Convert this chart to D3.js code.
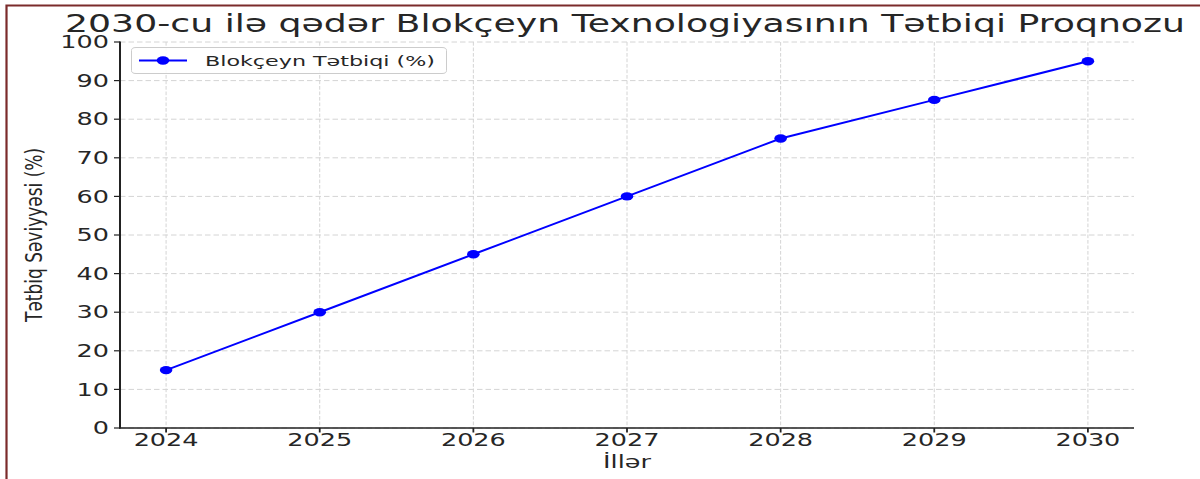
<!DOCTYPE html>
<html>
<head>
<meta charset="utf-8">
<script src="https://cdn.jsdelivr.net/npm/d3@7"></script>
<style>
  html, body { margin: 0; padding: 0; background: #fff; }
  svg { display: block; font-family: "DejaVu Sans", sans-serif; }
</style>
</head>
<body>
<div id="chart"></div>
<script>
// data
const years = [2024, 2025, 2026, 2027, 2028, 2029, 2030];
const adoption = [15, 30, 45, 60, 75, 85, 95];
const yTicks = [0, 10, 20, 30, 40, 50, 60, 70, 80, 90, 100];

const title = '2030-cu ilə qədər Blokçeyn Texnologiyasının Tətbiqi Proqnozu';
const xTitle = 'İllər';
const yTitle = 'Tətbiq Səviyyəsi (%)';
const seriesName = 'Blokçeyn Tətbiqi (%)';

const width = 1200, height = 479;
const sx = 1.5; // the picture is stretched sideways
const plotL = 120, plotR = 1134, plotT = 42, plotB = 428;

const svg = d3.select('#chart')
  .append('svg')
  .attr('width', width)
  .attr('height', height);

svg.append('rect').attr('width', width).attr('height', height).attr('fill', '#fff');

// page border
svg.append('path')
  .attr('d', 'M6.5,479 V5.5 H1200')
  .attr('fill', 'none')
  .attr('stroke', '#7b2b2b')
  .attr('stroke-width', 2.2);

const x = d3.scaleLinear().domain([2023.7, 2030.3]).range([plotL, plotR]);
const y = d3.scaleLinear().domain([0, 100]).range([plotB, plotT]);

// grid
const grid = svg.append('g').attr('stroke', '#d4d4d4').attr('stroke-width', 1);
grid.selectAll('line.h')
  .data(yTicks)
  .enter().append('line')
  .attr('x1', plotL).attr('x2', plotR)
  .attr('y1', d => y(d)).attr('y2', d => y(d))
  .attr('stroke-dasharray', '5.5,3');
grid.selectAll('line.v')
  .data(years)
  .enter().append('line')
  .attr('x1', d => x(d)).attr('x2', d => x(d))
  .attr('y1', plotT).attr('y2', plotB)
  .attr('stroke-dasharray', '3.7,1.8');

// series
const line = d3.line().x((d, i) => x(years[i])).y(d => y(d));
svg.append('path')
  .datum(adoption)
  .attr('d', line)
  .attr('fill', 'none')
  .attr('stroke', '#0000ff')
  .attr('stroke-width', 2);

svg.selectAll('ellipse.pt')
  .data(adoption)
  .enter().append('ellipse')
  .attr('cx', (d, i) => x(years[i]))
  .attr('cy', d => y(d))
  .attr('rx', 4.2 * sx)
  .attr('ry', 4.2)
  .attr('fill', '#0000ff');

// spines and ticks
const axisColor = '#222';
svg.append('line').attr('x1', plotL).attr('x2', plotL).attr('y1', plotT - 0.5).attr('y2', plotB + 0.6)
  .attr('stroke', axisColor).attr('stroke-width', 2);
svg.append('line').attr('x1', plotL - 1).attr('x2', plotR).attr('y1', plotB).attr('y2', plotB)
  .attr('stroke', axisColor).attr('stroke-width', 1.4);

svg.selectAll('line.yt')
  .data(yTicks)
  .enter().append('line')
  .attr('x1', plotL - 6).attr('x2', plotL)
  .attr('y1', d => y(d)).attr('y2', d => y(d))
  .attr('stroke', axisColor).attr('stroke-width', 1.2);
svg.selectAll('line.xt')
  .data(years)
  .enter().append('line')
  .attr('x1', d => x(d)).attr('x2', d => x(d))
  .attr('y1', plotB).attr('y2', plotB + 4.5)
  .attr('stroke', axisColor).attr('stroke-width', 1.8);

// tick labels
svg.selectAll('text.yl')
  .data(yTicks)
  .enter().append('text')
  .attr('transform', d => `translate(${plotL - 11},${y(d)}) scale(${sx},1)`)
  .attr('text-anchor', 'end')
  .attr('dy', '0.36em')
  .style('font-size', '17px')
  .style('fill', '#262626')
  .text(d => d);

svg.selectAll('text.xl')
  .data(years)
  .enter().append('text')
  .attr('transform', d => `translate(${x(d)},446) scale(${sx},1)`)
  .attr('text-anchor', 'middle')
  .style('font-size', '17px')
  .style('fill', '#262626')
  .text(d => d);

// axis titles
svg.append('text')
  .attr('transform', `translate(${(plotL + plotR) / 2},468) scale(${sx},1)`)
  .attr('text-anchor', 'middle')
  .style('font-size', '17px')
  .style('fill', '#262626')
  .text(xTitle);

svg.append('text')
  .attr('transform', `translate(42,${(plotT + plotB) / 2}) scale(${sx},1) rotate(-90)`)
  .attr('text-anchor', 'middle')
  .attr('textLength', 174)
  .attr('lengthAdjust', 'spacingAndGlyphs')
  .style('font-size', '15px')
  .style('fill', '#262626')
  .text(yTitle);

// title
svg.append('text')
  .attr('transform', `translate(625,32) scale(${sx},1)`)
  .attr('text-anchor', 'middle')
  .attr('textLength', 1120 / sx)
  .attr('lengthAdjust', 'spacingAndGlyphs')
  .style('font-size', '24.5px')
  .style('fill', '#262626')
  .text(title);

// legend
const lg = svg.append('g');
lg.append('rect')
  .attr('x', 131.5).attr('y', 47.5)
  .attr('width', 315).attr('height', 26)
  .attr('rx', 4.5).attr('ry', 3)
  .attr('fill', '#fff').attr('fill-opacity', 0.85)
  .attr('stroke', '#cccccc').attr('stroke-width', 1);
lg.append('line')
  .attr('x1', 139).attr('x2', 187).attr('y1', 60.5).attr('y2', 60.5)
  .attr('stroke', '#0000ff').attr('stroke-width', 2);
lg.append('ellipse')
  .attr('cx', 163).attr('cy', 60.5).attr('rx', 4.2 * sx).attr('ry', 4.2)
  .attr('fill', '#0000ff');
lg.append('text')
  .attr('transform', `translate(205,66) scale(${sx},1)`)
  .attr('textLength', 230 / sx)
  .attr('lengthAdjust', 'spacingAndGlyphs')
  .style('font-size', '14px')
  .style('fill', '#262626')
  .text(seriesName);
</script>
</body>
</html>
